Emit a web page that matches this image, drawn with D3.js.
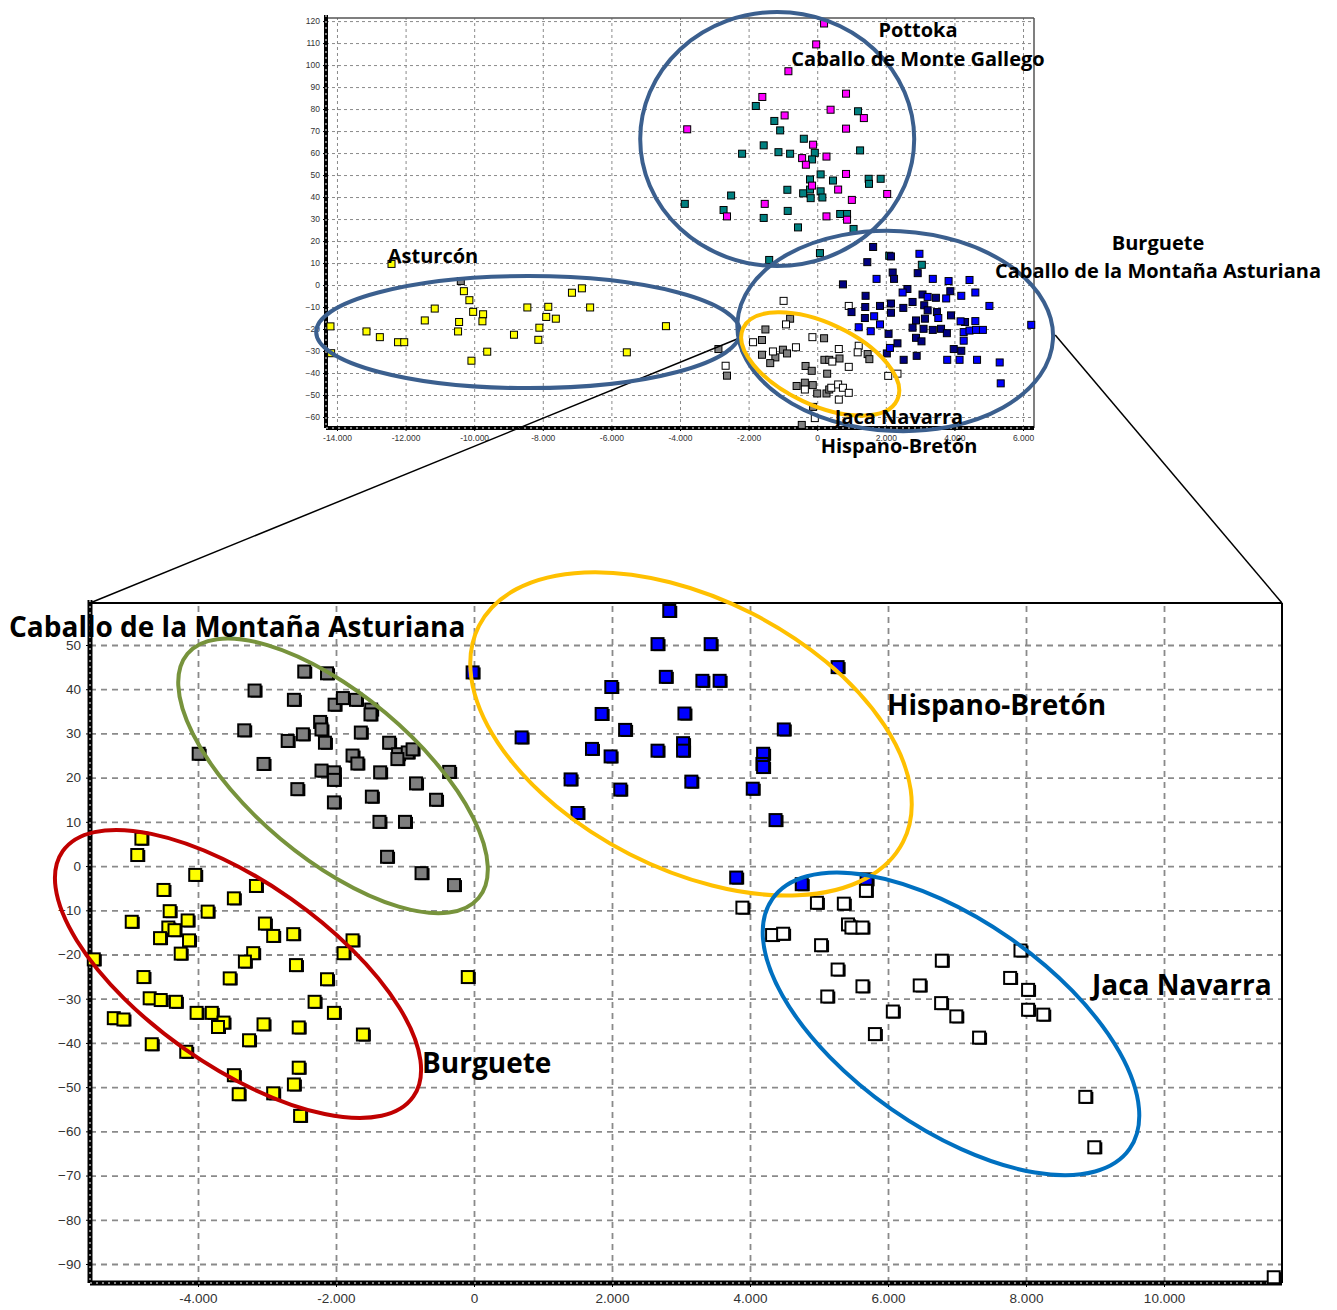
<!DOCTYPE html>
<html>
<head>
<meta charset="utf-8">
<script src="https://cdn.jsdelivr.net/npm/d3@7"></script>
<style>
  body { margin: 0; background: #fff; }
  svg { display: block; }
</style>
</head>
<body>
<div id="chart"></div>
<script>
// ---- Top panel data (x in raw units, y) ----
const asturcon = [[-12410,9.6],[-10300,-2.8],[-10140,-6.9],[-10030,-12.2],[-11150,-10.7],[-11440,-16.1],[-10440,-16.8],[-10470,-21.1],[-9740,-13.3],[-9760,-16.5],[-14190,-18.8],[-13140,-21.1],[-12750,-23.7],[-12220,-26.0],[-12040,-26.0],[-14170,-31.0],[-10080,-34.4],[-9620,-30.3],[-8840,-22.6],[-8450,-10.2],[-8130,-24.9],[-8100,-19.4],[-7900,-14.5],[-7840,-9.9],[-7620,-15.3],[-7150,-3.5],[-6860,-1.5],[-6620,-10.2],[-5550,-30.6],[-4410,-18.7]];
const pottoka = [[200,118.9],[-30,109.4],[-840,97.2],[-1600,85.5],[840,87.0],[390,79.7],[-950,77.1],[1360,75.9],[-3790,70.8],[840,71.1],[-120,63.8],[-440,57.7],[-330,54.7],[270,58.4],[840,50.5],[-150,45.2],[610,43.4],[2040,41.4],[1010,38.7],[-1530,36.9],[-2630,31.2],[270,31.2],[870,29.7]];
const monteGallego = [[-1790,81.4],[-1250,74.6],[-1080,70.3],[1190,79.0],[-390,66.5],[-1560,63.5],[-2190,59.7],[-1130,60.4],[-790,59.7],[-70,60.1],[-150,57.1],[1250,61.2],[100,50.3],[-210,48.0],[460,47.5],[1500,48.3],[1850,48.3],[1510,46.0],[-210,43.4],[-870,43.3],[-410,41.7],[100,42.6],[150,39.8],[-190,39.5],[-2510,40.7],[-3860,36.9],[-2730,34.1],[-860,33.7],[-1560,30.5],[670,32.3],[870,32.3],[-560,26.2],[1060,25.5],[-1400,11.4],[80,14.5],[2100,13.3],[3050,9.2]];
const topNavy = [[1630,17.3],[2150,13.0],[2930,5.4],[1460,10.4],[2200,5.7],[2240,2.8],[3880,-2.8],[2630,-1.8],[1410,-4.9],[3070,-4.3],[3460,-5.8],[2150,-8.4],[1830,-9.5],[1400,-10.0],[2510,-10.4],[2780,-7.7],[3120,-9.2],[3220,-11.5],[3490,-12.3],[3900,-13.8],[3140,-15.3],[2880,-16.1],[1390,-15.0],[2150,-12.6],[4310,-16.8],[2780,-19.4],[3100,-19.9],[3370,-20.4],[3610,-19.9],[3780,-21.9],[2080,-22.2],[2880,-24.0],[3040,-25.6],[2340,-26.5],[3980,-29.1],[4200,-29.9],[2030,-31.1],[2900,-32.2],[2520,-34.0],[750,0.3],[1000,-12.3]];
const topBlue = [[2980,14.2],[1730,2.8],[3370,2.8],[3830,1.8],[4440,2.3],[4610,-3.4],[4200,-4.9],[2490,-3.4],[3220,-5.4],[3760,-6.1],[5020,-9.5],[3530,-15.0],[1660,-14.2],[1830,-17.9],[4180,-16.5],[4610,-16.4],[1560,-21.0],[4270,-21.4],[4440,-20.7],[4630,-20.4],[4830,-20.4],[4270,-25.3],[2120,-28.6],[3790,-34.0],[4150,-34.0],[4660,-34.0],[5320,-35.2],[5350,-44.7],[6240,-18.1],[1210,-19.2]];
const topGray = [[-10390,1.8],[-790,-15.3],[-1510,-20.2],[-1610,-25.0],[200,-24.2],[-1000,-29.4],[-880,-31.1],[-1610,-31.7],[-1220,-32.9],[-1370,-35.5],[210,-34.0],[350,-34.0],[650,-33.4],[-340,-36.8],[-160,-39.0],[290,-40.3],[1470,-31.4],[1520,-33.7],[-600,-45.9],[-360,-44.4],[-130,-45.5],[0,-49.3],[270,-49.3],[350,-47.5],[-120,-55.4],[-450,-63.6],[-2880,-29.1],[-2630,-41.2]];
const topWhite = [[920,-9.5],[-980,-7.2],[-910,-17.9],[-1870,-26.0],[-140,-23.7],[-620,-28.3],[-1290,-30.2],[630,-29.1],[440,-34.8],[920,-37.2],[1210,-27.6],[1180,-30.6],[-360,-47.5],[410,-46.7],[610,-45.2],[750,-46.7],[920,-49.0],[630,-52.1],[-70,-60.5],[-2670,-36.7],[2070,-41.3],[2340,-40.3]];

const topXTicks = [-14000,-12000,-10000,-8000,-6000,-4000,-2000,0,2000,4000,6000];
const topYTicks = [120,110,100,90,80,70,60,50,40,30,20,10,0,-10,-20,-30,-40,-50,-60];

// ---- Bottom (zoomed) panel data ----
const cmaAsturiana = [[-2460,44.0],[-2130,43.6],[-3180,39.7],[-2610,37.6],[-2020,36.5],[-1900,38.0],[-1710,37.6],[-1490,35.4],[-1500,34.3],[-3330,30.7],[-2700,28.3],[-2480,29.8],[-2230,32.6],[-2210,30.9],[-2160,27.9],[-1640,30.2],[-1230,27.9],[-1760,25.0],[-1690,23.2],[-1100,25.3],[-960,25.7],[-890,26.4],[-1110,24.2],[-3990,25.4],[-3050,23.1],[-2210,21.6],[-2030,21.2],[-2030,19.5],[-1360,21.2],[-360,21.3],[-840,18.7],[-2560,17.4],[-1480,15.7],[-550,15.0],[-2030,14.4],[-1370,10.0],[-1000,10.0],[-1260,2.1],[-760,-1.6],[-290,-4.3]];
const burguete = [[-4820,6.2],[-4880,2.5],[-4040,-2.0],[-4500,-5.4],[-3160,-4.5],[-3480,-7.3],[-4410,-10.2],[-3860,-10.3],[-4960,-12.6],[-4150,-12.3],[-4430,-13.9],[-4340,-14.5],[-4550,-16.3],[-4130,-16.8],[-4250,-19.8],[-3030,-13.0],[-2910,-15.8],[-2620,-15.4],[-1760,-16.8],[-1890,-19.7],[-3200,-19.7],[-3320,-21.6],[-2580,-22.4],[-5510,-21.1],[-4790,-25.1],[-3540,-25.4],[-2130,-25.6],[-90,-25.1],[-4700,-29.9],[-4540,-30.3],[-4320,-30.7],[-2310,-30.7],[-4020,-33.2],[-3800,-33.2],[-3630,-35.4],[-3710,-36.4],[-3050,-35.8],[-2030,-33.2],[-2540,-36.5],[-1610,-38.1],[-5220,-34.4],[-5080,-34.7],[-3260,-39.4],[-4670,-40.3],[-4170,-42.0],[-2540,-45.6],[-3480,-47.3],[-3410,-51.6],[-2910,-51.4],[-2610,-49.4],[-2520,-56.5]];
const hispanoBreton = [[2830,57.7],[2660,50.2],[3430,50.2],[-20,43.8],[5270,45.0],[2780,42.8],[3310,41.9],[3560,41.9],[1990,40.5],[1850,34.4],[3050,34.5],[690,29.1],[2190,30.8],[4490,30.9],[1710,26.5],[1980,24.8],[2660,26.1],[3030,27.8],[3030,26.1],[4190,25.4],[4180,23.1],[4190,22.4],[1400,19.6],[3150,19.1],[2120,17.3],[4040,17.5],[1500,12.0],[4370,10.4],[3800,-2.6],[4750,-4.1],[5690,-3.0]];
const jacaNavarra = [[3890,-9.4],[4970,-8.3],[5360,-8.5],[5680,-5.6],[4320,-15.6],[4480,-15.3],[5420,-13.2],[5470,-13.9],[5630,-13.9],[5030,-17.9],[5270,-23.4],[5630,-27.2],[5120,-29.5],[6070,-32.9],[5810,-38.0],[6780,-21.4],[6460,-27.0],[6770,-31.0],[6990,-34.0],[7320,-38.8],[7920,-19.1],[7770,-25.3],[8030,-28.0],[8030,-32.5],[8250,-33.6],[8860,-52.2],[8990,-63.6],[11590,-93.0]];

const botXTicks = [-4000,-2000,0,2000,4000,6000,8000,10000];
const botYTicks = [50,40,30,20,10,0,-10,-20,-30,-40,-50,-60,-70,-80,-90];

const width = 1337;
const height = 1310;

const svg = d3.select("#chart")
  .append("svg")
  .attr("width", width)
  .attr("height", height);

// "-14.000" style labels
const fmt = d3.formatLocale({ decimal: ",", thousands: ".", grouping: [3], currency: ["", ""], minus: "-" }).format(",");

// Scales
const xTop = d3.scaleLinear().domain([-14320, 6320]).range([326, 1034]);
const yTop = d3.scaleLinear().domain([-65, 121.4]).range([428, 18]);
const xBot = d3.scaleLinear().domain([-5565, 11710]).range([90, 1282]);
const yBot = d3.scaleLinear().domain([-94.3, 59.5]).range([1283, 603]);

function drawFrame(x, y, xTicks, yTicks, opt) {
  const [x0, x1] = x.range();
  const [y0, y1] = y.range(); // y0 bottom, y1 top
  const g = svg.append("g");

  // dashed grid
  g.append("g")
    .attr("transform", `translate(0,${y0})`)
    .call(d3.axisBottom(x).tickValues(xTicks).tickSize(-(y0 - y1)).tickFormat(""))
    .call(a => a.select(".domain").remove())
    .selectAll("line")
    .attr("stroke", "#8a8a8a")
    .attr("stroke-width", opt.gridW)
    .attr("stroke-dasharray", opt.dash);
  g.append("g")
    .attr("transform", `translate(${x0},0)`)
    .call(d3.axisLeft(y).tickValues(yTicks).tickSize(-(x1 - x0)).tickFormat(""))
    .call(a => a.select(".domain").remove())
    .selectAll("line")
    .attr("stroke", "#8a8a8a")
    .attr("stroke-width", opt.gridW)
    .attr("stroke-dasharray", opt.dash);

  // top + right border
  g.append("line").attr("x1", x0).attr("x2", x1).attr("y1", y1).attr("y2", y1)
    .attr("stroke", opt.borderC).attr("stroke-width", opt.borderW);
  g.append("line").attr("x1", x1).attr("x2", x1).attr("y1", y1).attr("y2", y0)
    .attr("stroke", opt.borderC).attr("stroke-width", opt.borderW);

  // tick labels
  const xAxis = g.append("g")
    .attr("transform", `translate(0,${y0})`)
    .call(d3.axisBottom(x).tickValues(xTicks).tickSize(opt.tick).tickPadding(opt.pad).tickFormat(fmt));
  xAxis.select(".domain").remove();
  xAxis.selectAll("text").attr("font-family", "Liberation Sans, Arial, sans-serif")
    .attr("font-size", opt.font).attr("fill", "#333");
  xAxis.selectAll("line").attr("stroke", "#000");

  const yAxis = g.append("g")
    .attr("transform", `translate(${x0},0)`)
    .call(d3.axisLeft(y).tickValues(yTicks).tickSize(opt.tick).tickPadding(opt.pad - 1));
  yAxis.select(".domain").remove();
  yAxis.selectAll("text").attr("font-family", "Liberation Sans, Arial, sans-serif")
    .attr("font-size", opt.font).attr("fill", "#333");
  yAxis.selectAll("line").attr("stroke", "#000");

  // thick axis bars with notches
  [[x0, y1 - 3, x0, y0], [x0, y0, x1, y0]].forEach(([a, b, c, d]) => {
    g.append("line").attr("x1", a).attr("y1", b).attr("x2", c).attr("y2", d)
      .attr("stroke", "#000").attr("stroke-width", opt.axisW);
    g.append("line").attr("x1", a).attr("y1", b).attr("x2", c).attr("y2", d)
      .attr("stroke", "#fff").attr("stroke-width", 1).attr("stroke-dasharray", "2,4");
  });
}

function drawSquares(data, x, y, fill, size, sw, shadow) {
  const g = svg.append("g");
  if (shadow) {
    g.selectAll(null).data(data).join("rect")
      .attr("x", d => x(d[0]) - size / 2 + 2)
      .attr("y", d => y(d[1]) - size / 2 + 1)
      .attr("width", size).attr("height", size)
      .attr("fill", "#000");
  }
  g.selectAll(null).data(data).join("rect")
    .attr("x", d => x(d[0]) - size / 2)
    .attr("y", d => y(d[1]) - size / 2)
    .attr("width", size).attr("height", size)
    .attr("fill", fill)
    .attr("stroke", "#000")
    .attr("stroke-width", sw);
}

function drawEllipse(x, y, cx, cy, rx, ry, angle, color) {
  svg.append("ellipse")
    .attr("transform", `translate(${x(cx)},${y(cy)}) rotate(${angle})`)
    .attr("rx", rx).attr("ry", ry)
    .attr("fill", "none")
    .attr("stroke", color)
    .attr("stroke-width", 4);
}

function label(txt, px, py, size, anchor) {
  svg.append("text")
    .attr("x", px).attr("y", py)
    .attr("text-anchor", anchor)
    .attr("font-family", "'Open Sans', Lato, sans-serif")
    .attr("font-weight", "bold")
    .attr("font-size", size)
    .attr("fill", "#000")
    .text(txt);
}

// ---------- Top panel ----------
drawFrame(xTop, yTop, topXTicks, topYTicks,
  { gridW: 1, dash: "3,3", borderC: "#555", borderW: 1.5, tick: 3, pad: 4, font: 8.5, axisW: 4 });

drawSquares(monteGallego, xTop, yTop, "#008080", 7, 1, false);
drawSquares(pottoka, xTop, yTop, "#ff00ff", 7, 1, false);
drawSquares(asturcon, xTop, yTop, "#ffff00", 7, 1, false);
drawSquares(topGray, xTop, yTop, "#808080", 7, 1, false);
drawSquares(topWhite, xTop, yTop, "#ffffff", 7, 1, false);
drawSquares(topNavy, xTop, yTop, "#000080", 7, 1, false);
drawSquares(topBlue, xTop, yTop, "#0000ff", 7, 1, false);

// zoom connector lines
svg.append("line").attr("x1", xBot(-5565)).attr("y1", yBot(59.5))
  .attr("x2", xTop(-2245)).attr("y2", yTop(-24))
  .attr("stroke", "#000").attr("stroke-width", 1.5);
svg.append("line").attr("x1", xBot(11710)).attr("y1", yBot(59.5))
  .attr("x2", xTop(6939)).attr("y2", yTop(-22.7))
  .attr("stroke", "#000").attr("stroke-width", 1.5);

const steel = "#3b5f8e";
drawEllipse(xTop, yTop, -1166, 66.4, 137, 127, 0, steel);
drawEllipse(xTop, yTop, -8426, -21.4, 212, 56, 0, steel);
drawEllipse(xTop, yTop, 2274, -20.9, 158, 100, 3, steel);
drawEllipse(xTop, yTop, 87, -35.9, 85, 41, 25, "#ffc000");

label("Pottoka", 918, 37, 20, "middle");
label("Caballo de Monte Gallego", 918, 66, 20, "middle");
label("Asturcón", 433, 263, 20, "middle");
label("Burguete", 1158, 250, 20, "middle");
label("Caballo de la Montaña Asturiana", 1158, 278, 20, "middle");
label("Jaca Navarra", 899, 424, 20, "middle");
label("Hispano-Bretón", 899, 453, 20, "middle");

// ---------- Bottom panel ----------
drawFrame(xBot, yBot, botXTicks, botYTicks,
  { gridW: 1.8, dash: "6,5", borderC: "#000", borderW: 2, tick: 4, pad: 6, font: 13.5, axisW: 5 });

drawSquares(cmaAsturiana, xBot, yBot, "#7f7f7f", 12, 2, true);
drawSquares(burguete, xBot, yBot, "#ffff00", 12, 2, true);
drawSquares(hispanoBreton, xBot, yBot, "#0000ff", 12, 2, true);
drawSquares(jacaNavarra, xBot, yBot, "#ffffff", 12, 2, true);

drawEllipse(xBot, yBot, -2043, 20.4, 190, 82, 40, "#77933c");
drawEllipse(xBot, yBot, -3420, -24.4, 214, 92, 35, "#c00000");
drawEllipse(xBot, yBot, 3145, 29.9, 238, 135, 27, "#ffc000");
drawEllipse(xBot, yBot, 6913, -35.7, 218, 104, 35, "#0070c0");

label("Caballo de la Montaña Asturiana", 9, 637, 28, "start");
label("Hispano-Bretón", 887, 715, 28, "start");
label("Jaca Navarra", 1092, 995, 28, "start");
label("Burguete", 422, 1073, 28, "start");
</script>
</body>
</html>
